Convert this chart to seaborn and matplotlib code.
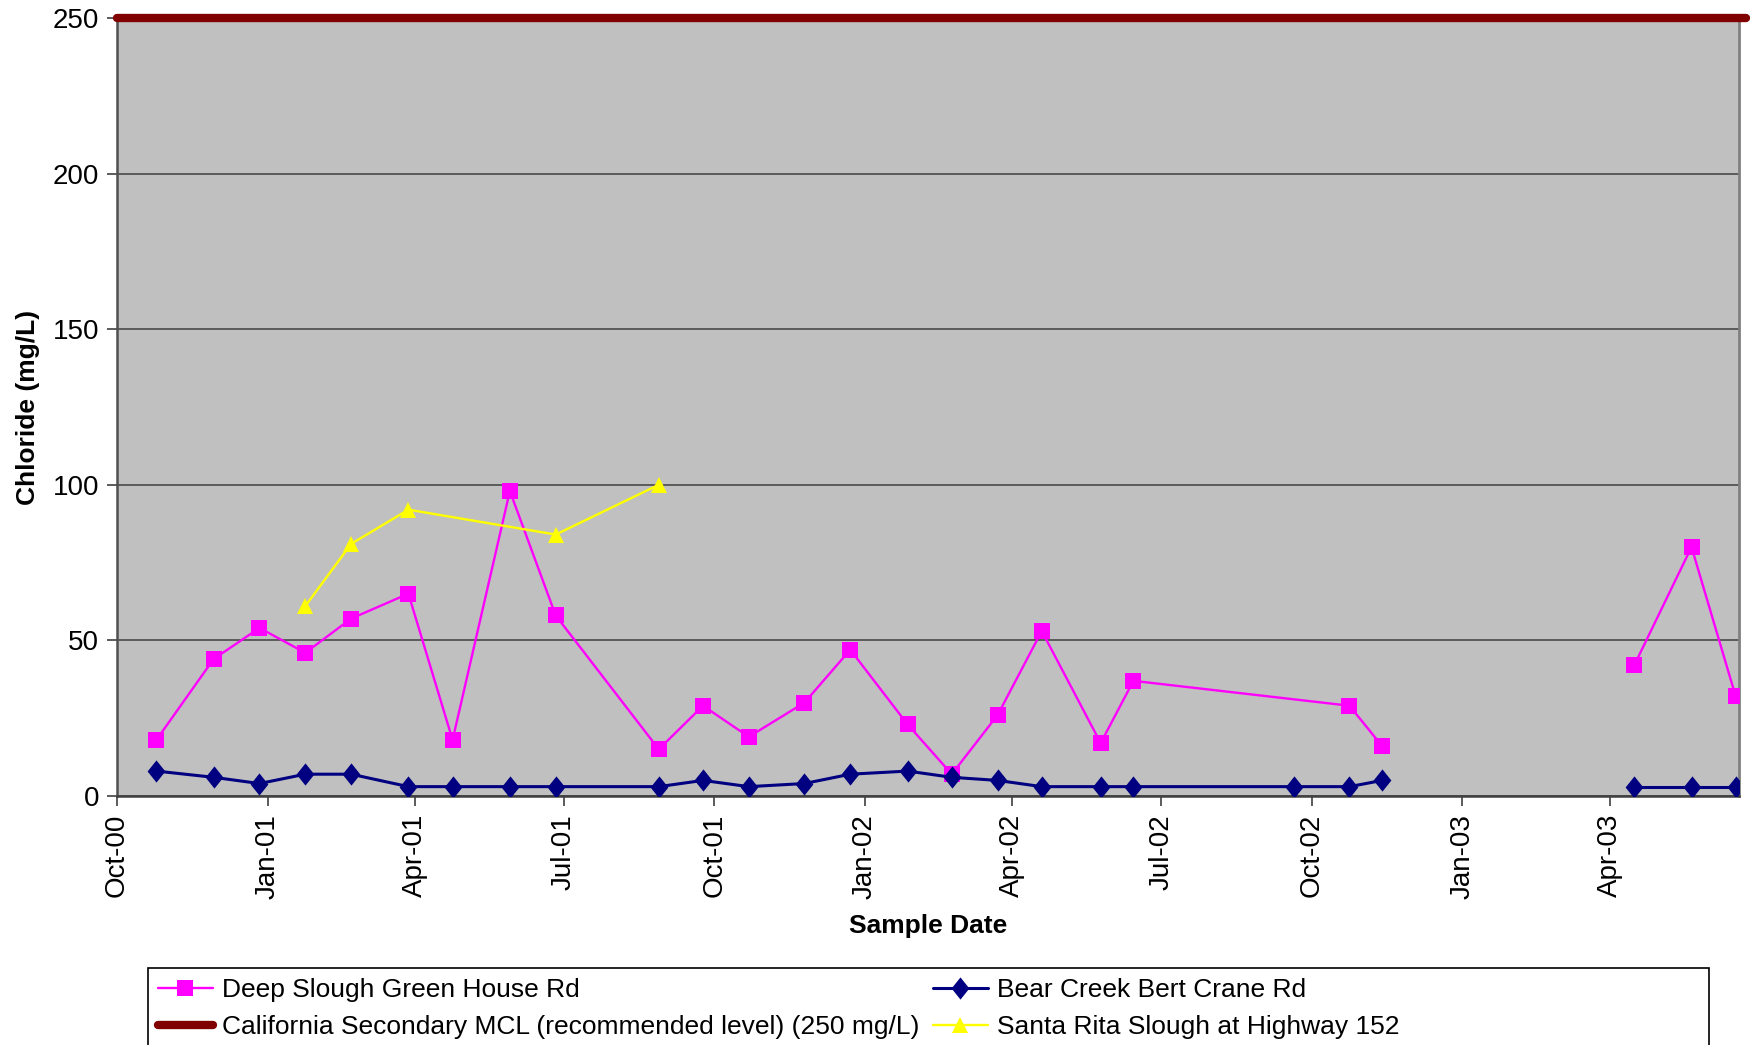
import matplotlib
matplotlib.use("Agg")
import matplotlib.pyplot as plt
import matplotlib.dates as mdates
from matplotlib.patches import Rectangle
import seaborn as sns
import pandas as pd

# Deep Slough Green House Rd
deep_dates = ['2000-10-25', '2000-11-29', '2000-12-27', '2001-01-24', '2001-02-21', '2001-03-28',
              '2001-04-24', '2001-05-29', '2001-06-26', '2001-08-28', '2001-09-24', '2001-10-22',
              '2001-11-25', '2001-12-23', '2002-01-27', '2002-02-23', '2002-03-23', '2002-04-19',
              '2002-05-25', '2002-06-14', '2002-10-24', '2002-11-13',
              '2003-04-16', '2003-05-21', '2003-06-17']
deep_vals = [18, 44, 54, 46, 57, 65, 18, 98, 58, 15, 29, 19, 30, 47, 23, 7, 26, 53,
             17, 37, 29, 16, 42, 80, 32]

# Bear Creek Bert Crane Rd
bear_dates = ['2000-10-25', '2000-11-29', '2000-12-27', '2001-01-24', '2001-02-21', '2001-03-28',
              '2001-04-24', '2001-05-29', '2001-06-26', '2001-08-28', '2001-09-24', '2001-10-22',
              '2001-11-25', '2001-12-23', '2002-01-27', '2002-02-23', '2002-03-23', '2002-04-19',
              '2002-05-25', '2002-06-14', '2002-09-20', '2002-10-24', '2002-11-13',
              '2003-04-16', '2003-05-21', '2003-06-17']
bear_vals = [8, 6, 4, 7, 7, 3, 3, 3, 3, 3, 5, 3, 4, 7, 8, 6, 5, 3, 3, 3, 3, 3, 5, 3, 3, 3]

# Santa Rita Slough at Highway 152
santa_dates = ['2001-01-24', '2001-02-21', '2001-03-28', '2001-06-26', '2001-08-28']
santa_vals = [61, 81, 92, 84, 100]

# California Secondary MCL
mcl_dates = ['2000-10-01', '2003-06-23']
mcl_vals = [250, 250]

y_ticks = [0, 50, 100, 150, 200, 250]


def make_df(dates, vals):
    df = pd.DataFrame({'date': pd.to_datetime(dates), 'value': vals})
    # break the line where sampling stopped over the winter of 2002-03
    df['seg'] = (df['date'].diff() > pd.Timedelta(days=140)).cumsum()
    return df


deep = make_df(deep_dates, deep_vals)
bear = make_df(bear_dates, bear_vals)
santa = make_df(santa_dates, santa_vals)
mcl = make_df(mcl_dates, mcl_vals)

sns.set_style('white')
plt.rcParams['font.family'] = ['Liberation Sans', 'DejaVu Sans']

fig = plt.figure(figsize=(17.5, 10.45), dpi=100)
ax = fig.add_axes([0.0669, 0.2383, 0.9268, 0.7445])
ax.set_facecolor('#C0C0C0')

lab_deep = 'Deep Slough Green House Rd'
lab_mcl = 'California Secondary MCL (recommended level) (250 mg/L)'
lab_bear = 'Bear Creek Bert Crane Rd'
lab_santa = 'Santa Rita Slough at Highway 152'

diamond = [(0, 1), (0.8, 0), (0, -1), (-0.8, 0), (0, 1)]

sns.lineplot(data=mcl, x='date', y='value', color='#800000', linewidth=6,
             label=lab_mcl, ax=ax, clip_on=False, solid_capstyle='round', zorder=5)
sns.lineplot(data=deep, x='date', y='value', units='seg', estimator=None, color='#FF00FF',
             linewidth=1.7, marker='s', markersize=11, markeredgewidth=0,
             label=lab_deep, ax=ax, zorder=3)
sns.lineplot(data=bear, x='date', y='value', units='seg', estimator=None, color='#000080',
             linewidth=2.2, marker=diamond, markersize=16, markeredgewidth=0,
             label=lab_bear, ax=ax, zorder=4)
sns.lineplot(data=santa, x='date', y='value', color='#FFFF00',
             linewidth=1.7, marker='^', markersize=12, markeredgewidth=0,
             label=lab_santa, ax=ax, zorder=3)

ax.set_ylim(0, 250)
ax.set_yticks(y_ticks)
ax.set_xlim(pd.Timestamp('2000-10-01'), pd.Timestamp('2003-06-19'))
ax.xaxis.set_major_locator(mdates.MonthLocator(bymonth=[1, 4, 7, 10]))
ax.xaxis.set_major_formatter(mdates.DateFormatter('%b-%y'))
ax.grid(axis='y', color='#404040', linewidth=1.1)
ax.set_axisbelow(True)

ax.spines['top'].set_visible(False)
ax.spines['right'].set_color('#808080')
ax.spines['right'].set_linewidth(2)
ax.spines['left'].set_color('#505050')
ax.spines['left'].set_linewidth(1.8)
ax.spines['bottom'].set_color('#404040')
ax.spines['bottom'].set_linewidth(1.8)

ax.tick_params(axis='both', direction='out', length=7, width=1.2, color='#404040',
               labelsize=20, labelcolor='black', pad=6, bottom=True, left=True)
ax.tick_params(axis='x', labelrotation=90)

ax.set_xlabel('Sample Date', fontsize=19, fontweight='bold', labelpad=11, color='black')
ax.set_ylabel('Chloride (mg/L)', fontsize=19, fontweight='bold', labelpad=9, color='black')

handles, labels = ax.get_legend_handles_labels()
hmap = dict(zip(labels, handles))
order = [lab_deep, lab_mcl, lab_bear, lab_santa]
ax.legend([hmap[k] for k in order], order, ncol=2, frameon=False, fontsize=19,
          labelcolor='black', loc='upper left', bbox_to_anchor=(0.0855, 0.0715),
          bbox_transform=fig.transFigure, borderaxespad=0, handlelength=2.1,
          handletextpad=0.35, columnspacing=0.5, labelspacing=0.5, borderpad=0.3)

fig.patches.append(Rectangle((148 / 1750, -0.02), (1709 - 148) / 1750, 0.0737 + 0.02,
                             transform=fig.transFigure, fill=False, edgecolor='black',
                             linewidth=1.2, figure=fig))

fig.savefig('out.png', dpi=100)
